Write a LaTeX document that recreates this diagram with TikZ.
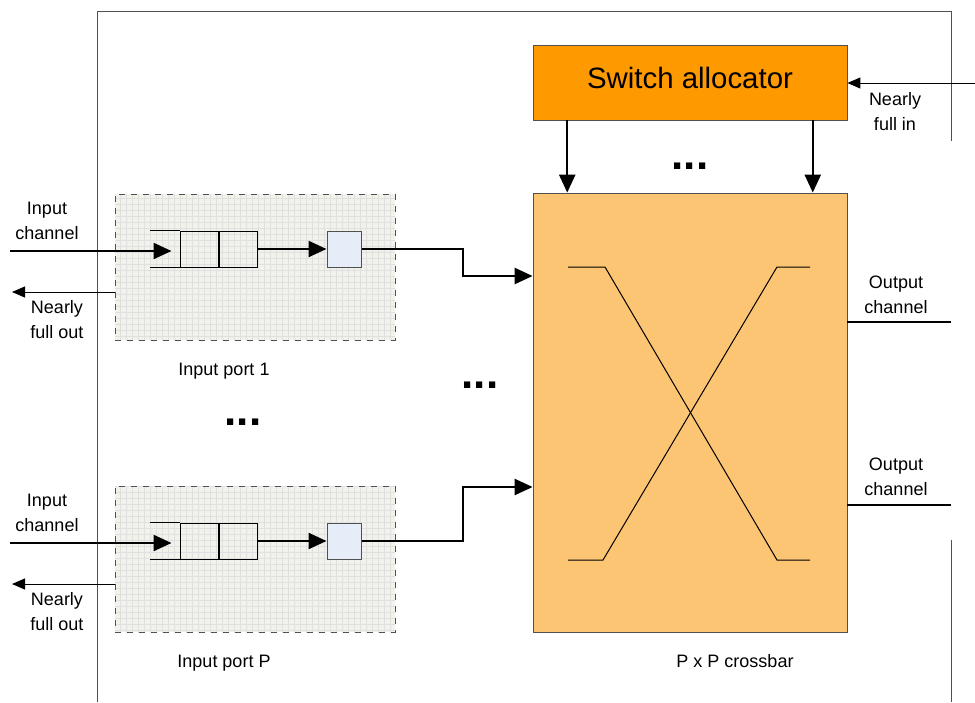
\documentclass[tikz,border=0pt]{standalone}
\usepackage{fontspec}
\setmainfont{Liberation Sans}
\usepackage{xcolor}
\usepackage{tikz}
\usetikzlibrary{
  positioning, arrows.meta, calc, patterns
}
\definecolor{rtorange}{HTML}{FF9900}
\definecolor{rtpeach}{HTML}{FCC574}
\definecolor{rtblue}{HTML}{E6ECF8}
\definecolor{rtgrid}{HTML}{F1F2EA}
\definecolor{rtgray}{HTML}{505050}

\begin{document}
\begin{tikzpicture}[
  x=0.5pt, y=-0.5pt,
  lbl/.style={font=\fontsize{9}{12.5}\selectfont, align=center, inner sep=0pt},
  dots/.style={font=\fontsize{22}{22}\selectfont\bfseries, inner sep=0pt},
  portbox/.style={
    rectangle, draw=rtgray, dashed, line width=0.5pt,
    preaction={fill=rtgrid}, pattern=grid, pattern color=black!12,
    minimum width=140pt, minimum height=73pt
  },
  qcell/.style={rectangle, draw, line width=0.5pt, inner sep=0pt,
    minimum width=19pt, minimum height=18pt},
  bufcell/.style={qcell, draw=rtgray, fill=rtblue, minimum width=17pt},
  allocbox/.style={
    rectangle, draw=rtgray, fill=rtorange,
    minimum width=157pt, minimum height=37.5pt,
    font=\fontsize{14.7}{17}\selectfont
  },
  xbarbox/.style={rectangle, draw=rtgray, fill=rtpeach,
    minimum width=157pt, minimum height=219.5pt},
  arr/.style={-{Triangle[length=9pt,width=8pt]}, line width=1.2pt},
  sigarr/.style={-{Triangle[length=6.5pt,width=5.5pt]}, line width=0.5pt},
  conn/.style={line width=1.2pt},
  frame/.style={line width=0.5pt, draw=rtgray},
]
\useasboundingbox (0,0) rectangle (975,702);

% router boundary
\draw[frame] (97,702) -- (97,11) -- (951,11) -- (951,141);
\draw[frame] (951,540) -- (951,702);

% allocator and crossbar
\node[allocbox] (alloc) at (690,82.5) {\raisebox{4.5pt}{Switch allocator}};
\node[xbarbox] (xbar) at (690,412.5) {};
\node[lbl, below=11pt of xbar.south, xshift=22.5pt] {P x P crossbar};

\draw[line width=0.5pt] (568,267) -- (605,267) -- (777,560) -- (810,560);
\draw[line width=0.5pt] (568,560) -- (603,560) -- (777,267) -- (810,267);

\foreach \t in {0.11, 0.89} {
  \draw[arr] ($(alloc.south west)!\t!(alloc.south east)$)
    -- ($(xbar.north west)!\t!(xbar.north east)$);
}
\node[dots] (dtop) at (690,166) {...};

\coordinate (nfin) at (975,83);
\draw[sigarr] (nfin) -- (alloc.east |- nfin);
\node[lbl] at (895,112) {Nearly\\full in};

% input ports
\foreach \p/\y in {1/0, P/292} {
  \node[portbox] (port\p) at (255,267+\y) {};
  \node[qcell] (q\p-a) at (199,249+\y) {};
  \node[qcell, right=0pt of q\p-a] (q\p-b) {};
  \node[bufcell, right=34.5pt of q\p-b] (buf\p) {};
  \draw[line width=0.5pt] (q\p-a.north west) -- ++(-30,0);
  \draw[line width=0.5pt] (q\p-a.south west) -- ++(-30,0);
  \draw[arr] (q\p-b.east) -- (buf\p.west);

  \coordinate (in\p) at (10,251+\y);
  \draw[arr] (in\p) -- ([xshift=-4pt]q\p-a.west |- in\p);
  \node[lbl] at (47,221+\y) {Input\\channel};

  \coordinate (nfo\p) at (12,292+\y);
  \draw[sigarr] (nfo\p -| port\p.west) -- (nfo\p);
  \node[lbl] at (57,320+\y) {Nearly\\full out};

  \node[lbl, below=11pt of port\p.south, xshift=-15.5pt] {Input port \p};
}
\node[dots] (dleft) at (243,422) {...};
\node[dots] (dmid) at (480,385) {...};

% into the crossbar
\coordinate (j1) at (463,276);
\coordinate (jP) at (463,487);
\foreach \p in {1, P} {
  \draw[arr] (buf\p.east) -| (j\p) -- (xbar.west |- j\p);
}

% output channels
\coordinate (out1) at (951,322);
\coordinate (out2) at (951,505);
\foreach \o/\ly in {1/295, 2/477} {
  \draw[conn] (out\o -| xbar.east) -- (out\o);
  \node[lbl] at (896,\ly) {Output\\channel};
}
\end{tikzpicture}
\end{document}
